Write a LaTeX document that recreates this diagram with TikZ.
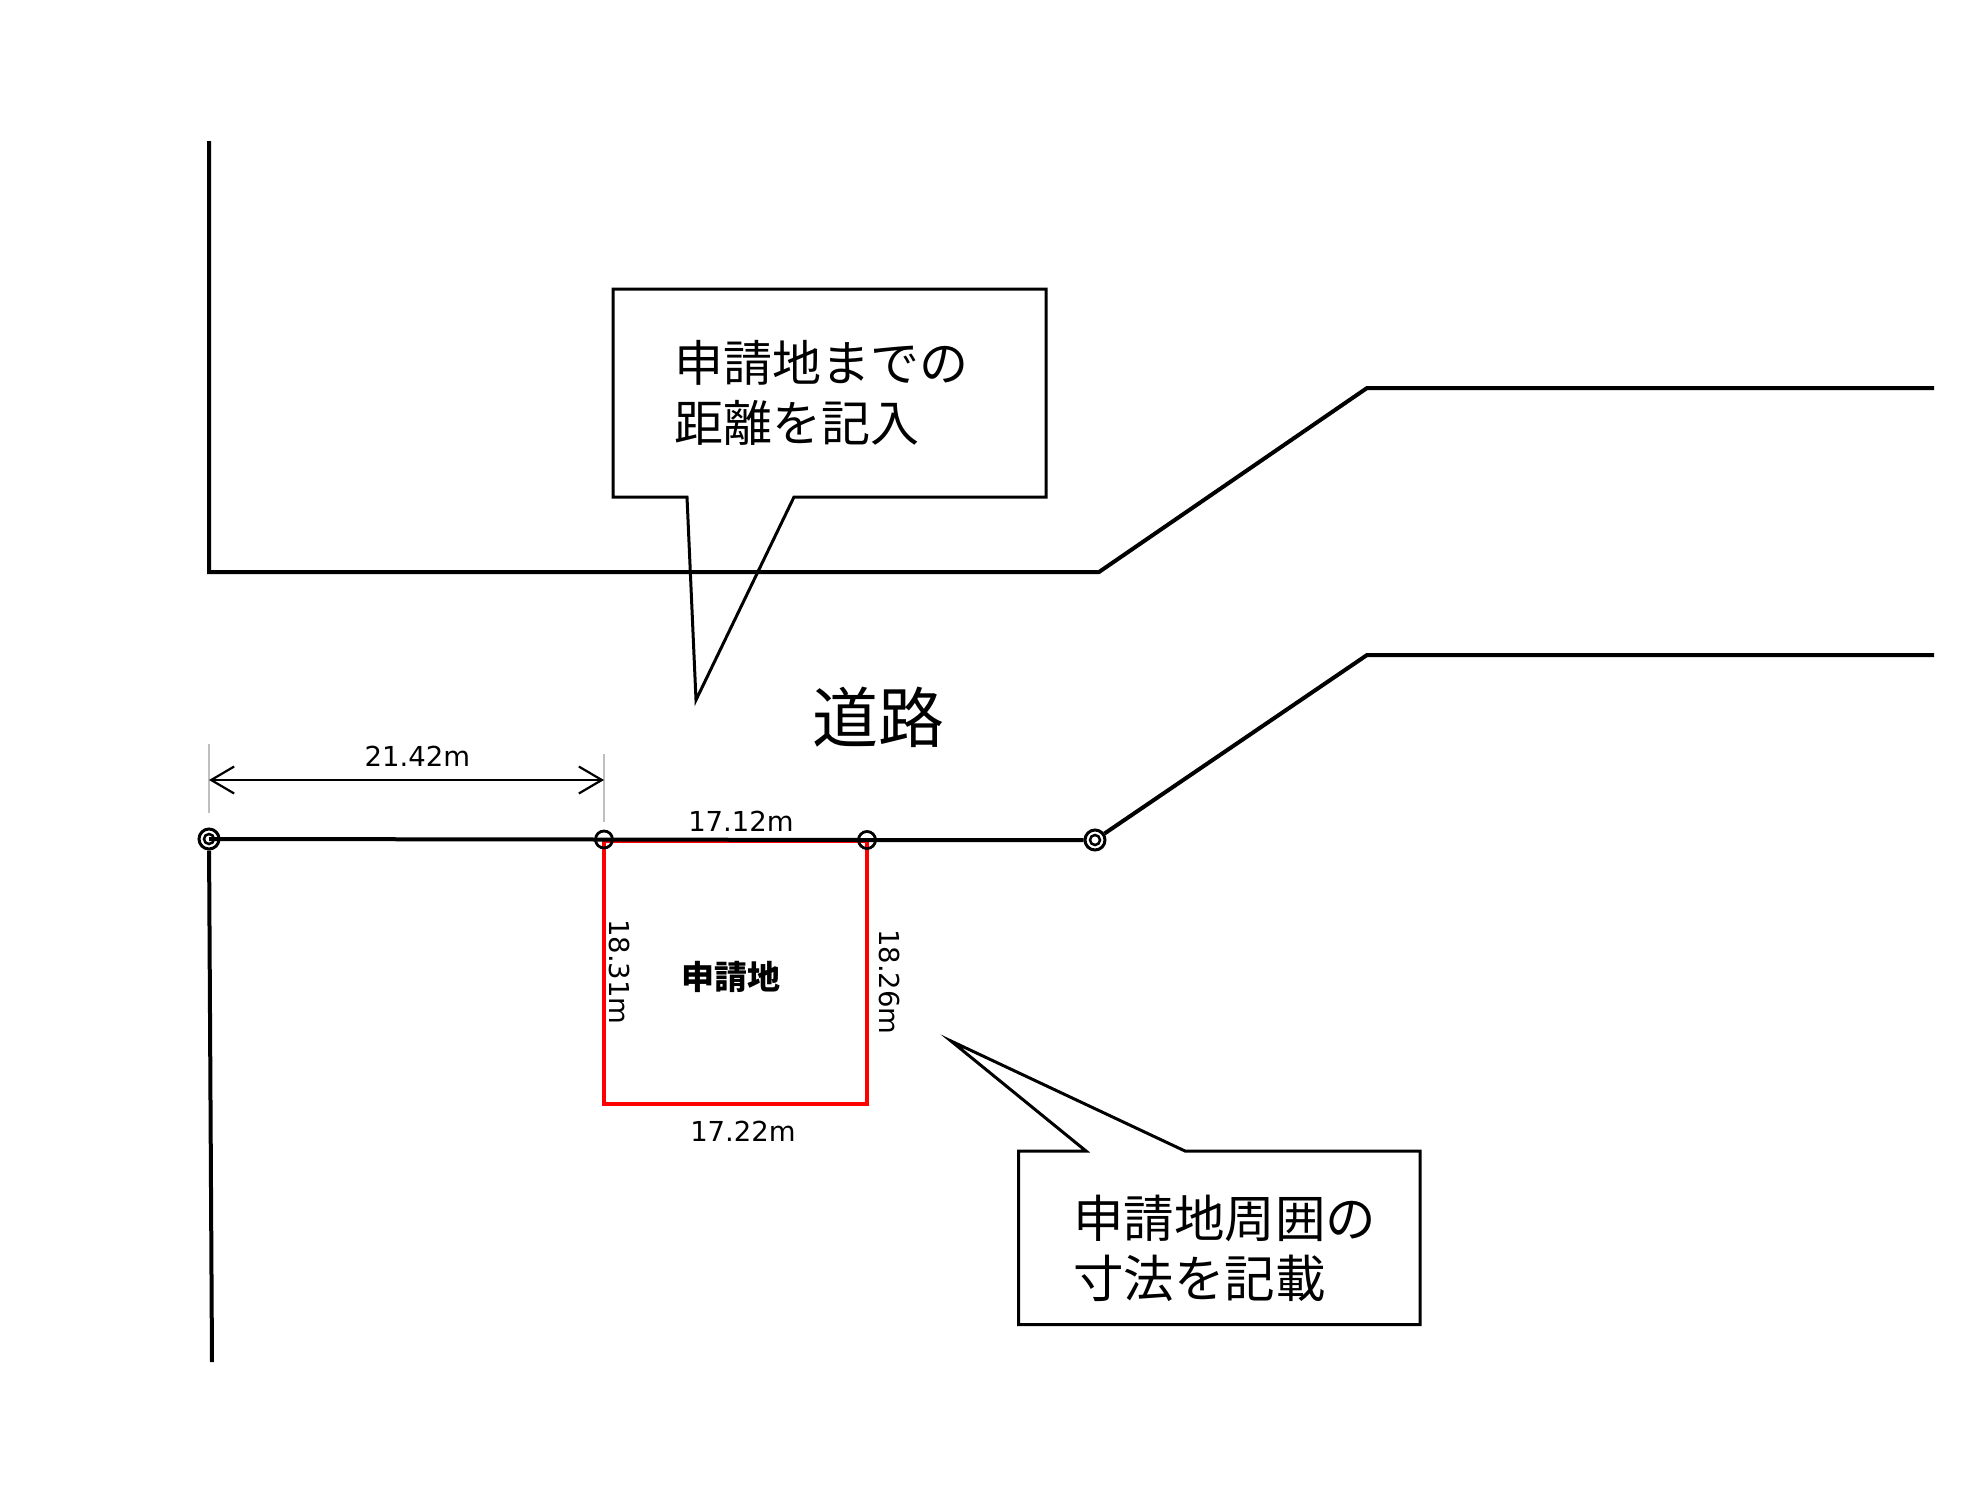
\documentclass[tikz,border=0pt]{standalone}
\usepackage{fontspec}
\usetikzlibrary{arrows.meta}
\setmainfont{DejaVu Sans}
\newfontfamily\cjk{Noto Sans CJK JP}
\tikzset{
  road/.style={line width=4pt},
  plot/.style={draw=red,line width=4.5pt},
  bubble/.style={draw,line width=3pt,fill=white,line join=miter},
  tick/.style={draw=black!25,line width=2pt},
  span/.style={line width=2.2pt,{Straight Barb[length=23pt,width=27pt,line width=2.2pt]}-{Straight Barb[length=23pt,width=27pt,line width=2.2pt]}},
  pin/.style={circle,draw,line width=2.5pt,inner sep=0pt,minimum size=17pt},
  pinb/.style={pin,line width=3pt,minimum size=20pt,path picture={\draw[line width=2.5pt] (path picture bounding box.center) circle (5pt);}},
  len/.style={font=\fontsize{27.5}{27.5}\selectfont,inner sep=0pt},
  note/.style={font=\cjk\fontsize{49}{60}\selectfont,align=left,inner sep=0pt}
}
\begin{document}
\begin{tikzpicture}[x=1pt,y=-1pt]
\useasboundingbox (0,0) rectangle (1976,1508);
\draw[road] (209,141) -- (209,572) -- (1099,572) -- (1367,388) -- (1934,388);
\draw[plot] (604,840.5) rectangle (867,1104);
\node[pinb] (corner) at (209,839) {};
\node[pin] (west) at (604,839.5) {};
\node[pin] (east) at (867,840) {};
\node[pinb] (bend) at (1095,840) {};
\coordinate (far) at (1934,655);
\coordinate (south) at (212,1362);
\draw[road] (corner.center) -- (west.center) -- (east.center) -- (bend);
\draw[road] (bend) -- (1367,655) -- (far);
\draw[road] (corner) -- (south);
\node[pin] at (west) {};
\node[pin] at (east) {};
\coordinate (spanw) at (209,780);
\coordinate (spane) at (604,780);
\draw[tick] (209,744) -- (209,813); \draw[tick] (604,754) -- (604,822);
\draw[span] (spanw) -- (spane);
\node[len] (widthroad) at (417.5,756) {21.42m};
\node[len] (widthtop) at (741,821) {17.12m};
\node[len] (widthbot) at (743,1131) {17.22m};
\node[len,rotate=-90] (depthw) at (620,972) {18.31m};
\node[len,rotate=-90] (depthe) at (890,982) {18.26m};
\node[font=\cjk\bfseries\fontsize{33}{33}\selectfont,inner sep=0pt] (site) at (731,977) {申請地};
\node[font=\cjk\fontsize{66}{66}\selectfont,inner sep=0pt] (roadname) at (878,717) {道路};
\draw[bubble,fill=none] (613,289) -- (1046,289) -- (1046,497) -- (794,497) -- (696,700) -- (687,497) -- (613,497) -- cycle;
\node[note] (notedist) at (821,393) {申請地までの\\距離を記入};
\draw[bubble] (1018.5,1151) -- (1086,1151) -- (951,1041) -- (1185,1151) -- (1420,1151) -- (1420,1324.5) -- (1018.5,1324.5) -- cycle;
\node[note,font=\cjk\fontsize{50.5}{60}\selectfont] (notesize) at (1224.5,1248.5) {申請地周囲の\\寸法を記載};
\end{tikzpicture}
\end{document}
